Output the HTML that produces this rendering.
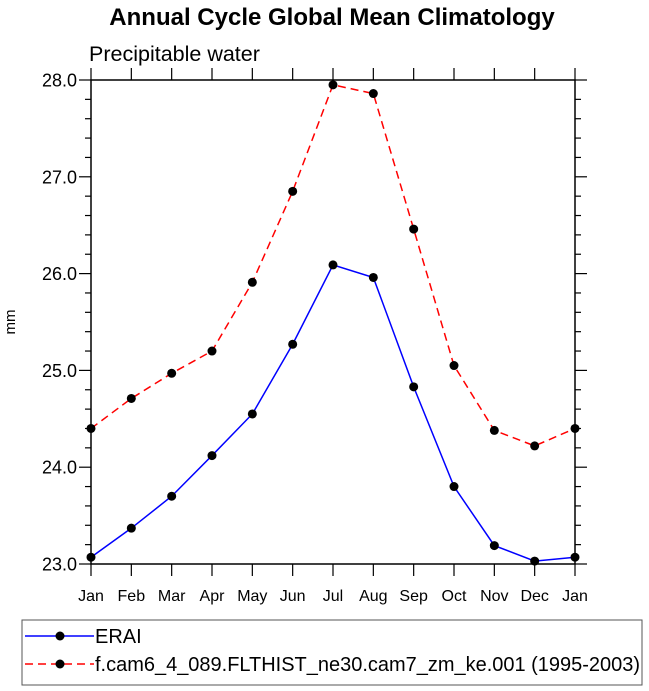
<!DOCTYPE html>
<html><head><meta charset="utf-8"><style>body{margin:0;background:#fff}svg{display:block;font-family:"Liberation Sans",Arial,sans-serif}</style></head>
<body>
<svg id="c" width="649" height="691" xmlns="http://www.w3.org/2000/svg"></svg>
<script>
const months=["Jan","Feb","Mar","Apr","May","Jun","Jul","Aug","Sep","Oct","Nov","Dec","Jan"];
const erai=[23.07,23.37,23.70,24.12,24.55,25.27,26.09,25.96,24.83,23.80,23.19,23.03,23.07];
const model=[24.40,24.71,24.97,25.20,25.91,26.85,27.95,27.86,26.46,25.05,24.38,24.22,24.40];
const yTicks=[23.0,24.0,25.0,26.0,27.0,28.0];
const X0=91,X1=575,Y0=80,Y1=564,YMIN=23,YMAX=28;
const xs=i=>X0+(X1-X0)*i/(months.length-1);
const ys=v=>Y1-(v-YMIN)/(YMAX-YMIN)*(Y1-Y0);
const svg=document.getElementById('c');const NS="http://www.w3.org/2000/svg";
function mk(t,a,p){const e=document.createElementNS(NS,t);for(const k in a)e.setAttribute(k,a[k]);(p||svg).appendChild(e);return e;}
let t=mk('text',{x:332,y:25,'text-anchor':'middle','font-size':24,'font-weight':'bold'});t.textContent="Annual Cycle Global Mean Climatology";


t=mk('text',{x:89,y:61,'font-size':21.5});t.textContent="Precipitable water";


t=mk('text',{x:15,y:322,'font-size':15,'text-anchor':'middle',transform:'rotate(-90 15 322)'});t.textContent="mm";


const fr=mk('rect',{x:X0,y:Y0,width:X1-X0,height:Y1-Y0,fill:'none',stroke:'#000','stroke-width':1.5});


for(let v=YMIN;v<=YMAX+1e-6;v+=0.2){const maj=Math.abs(v-Math.round(v))<1e-6;const L=maj?12:6;const y=ys(v);
mk('line',{x1:X0-L,x2:X0,y1:y,y2:y,stroke:'#000','stroke-width':1.2});mk('line',{x1:X1,x2:X1+L,y1:y,y2:y,stroke:'#000','stroke-width':1.2});}
yTicks.forEach(v=>{const e=mk('text',{x:X0-14,y:ys(v)+6.5,'text-anchor':'end','font-size':18});e.textContent=v.toFixed(1);

});
months.forEach((m,i)=>{const x=xs(i);mk('line',{x1:x,x2:x,y1:Y0-12,y2:Y0,stroke:'#000','stroke-width':1.2});mk('line',{x1:x,x2:x,y1:Y1,y2:Y1+12,stroke:'#000','stroke-width':1.2});
const e=mk('text',{x:x,y:Y1+37,'text-anchor':'middle','font-size':16});e.textContent=m;

});
function series(d,col,dash,name){const g=mk('g',{});
mk('polyline',{points:d.map((v,i)=>xs(i)+','+ys(v)).join(' '),fill:'none',stroke:col,'stroke-width':1.5,'stroke-dasharray':dash},g);
d.forEach((v,i)=>{const c=mk('circle',{cx:xs(i),cy:ys(v),r:4.5,fill:'#000'},g);});}
series(model,'#f00','8 5','model-series');
series(erai,'#00f','none','erai-series');
const lg=mk('g',{});
mk('rect',{x:22,y:620,width:620,height:65,fill:'none',stroke:'#555','stroke-width':1},lg);
mk('line',{x1:25,x2:94,y1:636,y2:636,stroke:'#00f','stroke-width':1.5},lg);mk('circle',{cx:60,cy:636,r:4.5},lg);
mk('line',{x1:25,x2:94,y1:664,y2:664,stroke:'#f00','stroke-width':1.5,'stroke-dasharray':'8 5'},lg);mk('circle',{cx:60,cy:664,r:4.5},lg);
t=mk('text',{x:95,y:643,'font-size':20},lg);t.textContent="ERAI";


t=mk('text',{x:95,y:671,'font-size':20,textLength:545,lengthAdjust:'spacingAndGlyphs'},lg);t.textContent="f.cam6_4_089.FLTHIST_ne30.cam7_zm_ke.001 (1995-2003)";


</script>
</body></html>
